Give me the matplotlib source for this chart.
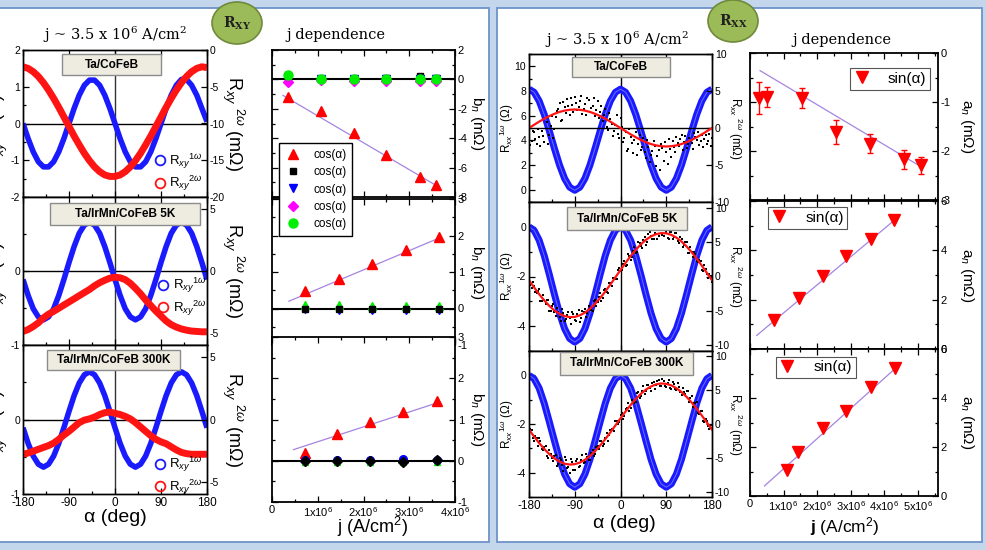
import matplotlib
matplotlib.use("Agg")
import matplotlib.pyplot as plt
import numpy as np
from matplotlib.lines import Line2D
from matplotlib.patches import Ellipse, Rectangle
from matplotlib.ticker import MultipleLocator

W, H = 986, 550
BLUE = "#1a1aff"
RED = "#ff1414"
FITC = "#a484e0"

plt.rcParams["font.family"] = ["Liberation Sans", "DejaVu Sans"]
plt.rcParams["mathtext.fontset"] = "custom"
plt.rcParams["mathtext.rm"] = "Liberation Sans"
plt.rcParams["mathtext.it"] = "Liberation Sans:italic"
plt.rcParams["mathtext.bf"] = "Liberation Sans:bold"
plt.rcParams["axes.unicode_minus"] = False

# ---------------- angle grids (deg) ----------------
alpha10 = np.arange(-180, 181, 10)
alpha5 = np.arange(-180, 181, 5)
alpha5b = np.arange(-177.5, 180, 5)

# ---------------- Rxy vs alpha ----------------
rxy1_cofeb = [0, -0.41, -0.77, -1.04, -1.18, -1.18, -1.04, -0.77, -0.41,
              0, 0.41, 0.77, 1.04, 1.18, 1.18, 1.04, 0.77, 0.41,
              0, -0.41, -0.77, -1.04, -1.18, -1.18, -1.04, -0.77, -0.41,
              0, 0.41, 0.77, 1.04, 1.20, 1.20, 1.04, 0.77, 0.41, 0.05]
rxy2_cofeb = [-2.28, -2.5, -2.95, -3.6, -4.45, -5.45, -6.58, -7.8, -9.1,
              -10.4, -11.7, -12.9, -14.05, -15.05, -15.9, -16.55, -17.0, -17.2,
              -17.2, -17.0, -16.55, -15.9, -15.05, -14.05, -12.9, -11.7, -10.4,
              -9.1, -7.8, -6.58, -5.45, -4.45, -3.6, -2.95, -2.5, -2.28, -2.4]
rxy1_5k = [-0.115, -0.33, -0.51, -0.62, -0.66, -0.62, -0.51, -0.33, -0.115,
           0.115, 0.33, 0.51, 0.62, 0.66, 0.62, 0.51, 0.33, 0.115,
           -0.115, -0.33, -0.51, -0.62, -0.66, -0.62, -0.51, -0.33, -0.115,
           0.115, 0.33, 0.51, 0.62, 0.66, 0.62, 0.51, 0.33, 0.115, -0.115]
rxy2_5k = [-4.9, -4.75, -4.5, -4.2, -3.8, -3.5, -3.27, -3.02, -2.76,
           -2.51, -2.26, -2.0, -1.75, -1.5, -1.2, -0.95, -0.75, -0.58,
           -0.5, -0.55, -0.7, -1.0, -1.4, -1.85, -2.35, -2.8, -3.25,
           -3.65, -4.05, -4.35, -4.55, -4.7, -4.8, -4.87, -4.9, -4.93, -4.93]
rxy1_300k = [-0.11, -0.32, -0.49, -0.6, -0.64, -0.6, -0.49, -0.32, -0.11,
             0.11, 0.32, 0.49, 0.6, 0.64, 0.6, 0.49, 0.32, 0.11,
             -0.11, -0.32, -0.49, -0.6, -0.64, -0.6, -0.49, -0.32, -0.11,
             0.11, 0.32, 0.49, 0.6, 0.64, 0.6, 0.49, 0.32, 0.11, -0.11]
rxy2_300k = [-2.8, -2.7, -2.55, -2.4, -2.25, -2.1, -1.9, -1.6, -1.25,
             -0.95, -0.6, -0.25, -0.05, 0.05, 0.2, 0.4, 0.55, 0.6,
             0.5, 0.4, 0.25, 0.05, -0.25, -0.6, -0.95, -1.3, -1.6,
             -1.8, -1.95, -2.2, -2.45, -2.65, -2.75, -2.8, -2.8, -2.8, -2.8]

# ---------------- b_n vs j (Rxy) ----------------
jb_cofeb = [0.35e6, 1.07e6, 1.79e6, 2.5e6, 3.23e6, 3.58e6]
bn_red_cofeb = [-1.22, -2.15, -3.65, -5.17, -6.64, -7.2]
bn_black_cofeb = [0.1, 0.05, 0.0, 0.1, 0.2, 0.1]
bn_blue_cofeb = [0.1, 0.0, 0.0, 0.0, 0.0, 0.0]
bn_mag_cofeb = [-0.2, -0.05, -0.1, -0.1, -0.1, -0.1]
bn_green_cofeb = [0.32, 0.05, 0.0, 0.0, 0.0, 0.0]
bn_fit_cofeb = [-1.83, -0.65]          # slope per 1e6 A/cm^2, intercept
bn_span_cofeb = [0.24e6, 3.58e6]

jb_5k = [0.73e6, 1.46e6, 2.19e6, 2.92e6, 3.65e6]
bn_red_5k = [0.48, 0.82, 1.22, 1.59, 1.96]
bn_green_5k = [0.1, 0.1, 0.08, 0.08, 0.08]
bn_blue_5k = [-0.05, -0.06, -0.06, -0.07, -0.07]
bn_black_5k = [0.0, 0.0, 0.0, 0.0, 0.0]
bn_fit_5k = [0.527, 0.005]
bn_span_5k = [0.37e6, 3.65e6]

jb_300k = [0.72e6, 1.43e6, 2.15e6, 2.87e6, 3.6e6]
bn_red_300k = [0.2, 0.65, 0.93, 1.19, 1.45]
bn_green_300k = [-0.03, -0.03, -0.03, -0.03, -0.04]
bn_blue_300k = [0.02, 0.02, 0.03, 0.05, 0.03]
bn_black_300k = [0.0, 0.0, 0.0, -0.02, 0.01]
bn_fit_300k = [0.361, 0.10]
bn_span_300k = [0.47e6, 3.6e6]

# ---------------- Rxx vs alpha ----------------
rxx1_cofeb = [8.15, 7.9, 7.19, 6.1, 4.76, 3.34, 2.0, 0.91, 0.2,
              -0.05, 0.2, 0.91, 2.0, 3.34, 4.76, 6.1, 7.19, 7.9,
              8.15, 7.9, 7.19, 6.1, 4.76, 3.34, 2.0, 0.91, 0.2,
              -0.05, 0.2, 0.91, 2.0, 3.34, 4.76, 6.1, 7.19, 7.9, 8.15]
rxx2fit_cofeb = [0, 0.43, 0.86, 1.25, 1.61, 1.92, 2.17, 2.35, 2.46,
                 2.5, 2.46, 2.35, 2.17, 1.92, 1.61, 1.25, 0.86, 0.43,
                 0, -0.43, -0.86, -1.25, -1.61, -1.92, -2.17, -2.35, -2.46,
                 -2.5, -2.46, -2.35, -2.17, -1.92, -1.61, -1.25, -0.86, -0.43, 0]
rxx2dots_cofeb_a = [-1.0, -1.8, -0.6, -2.1, -1.2, -0.4, -1.9, 0.8, -0.9, 1.6,
                    -0.2, 2.3, 3.4, 1.1, 2.8, 3.9, 1.7, 3.1, 4.2, 2.4,
                    3.6, 1.9, 3.3, 4.1, 2.2, 3.0, 1.6, 3.7, 2.1, 0.9,
                    2.6, -0.3, 1.2, -1.1, 0.4, -0.8, 1.3, -1.9, -0.6, -2.8,
                    -1.2, -3.4, -0.5, -2.2, -3.0, -1.4, -4.1, -2.5, -3.6, -1.8,
                    -5.2, -3.0, -2.1, -4.4, -3.3, -1.5, -3.9, -2.6, -1.2, -2.4,
                    -0.9, -1.9, -2.7, -1.3, -2.0, -0.7, -1.6, -2.3, -0.9, -1.5,
                    -2.1, -0.8, -1.4]
rxx2dots_cofeb_b = [-2.3, -0.4, -1.5, -0.2, -2.4, -1.1, 1.3, -2.2, 0.3, -1.4,
                    1.5, 2.6, 0.9, 3.5, 2.0, 3.0, 4.0, 2.2, 3.4, 2.9,
                    4.3, 2.6, 1.8, 3.8, 2.7, 4.0, 2.5, 1.4, 3.0, 1.8,
                    0.2, 2.0, 0.6, -0.4, 1.8, -1.3, 0.2, -1.4, -3.1, -0.2,
                    -2.0, -1.6, -3.7, -1.0, -2.6, -3.3, -1.6, -4.6, -3.1, -2.4,
                    -3.8, -5.7, -2.7, -1.9, -4.8, -2.9, -1.7, -3.3, -2.0, -1.5,
                    -3.0, -1.1, -2.2, -1.7, -2.8, -1.2, -0.6, -1.8, -2.6, -1.0,
                    -1.7, -2.4]

rxx1_5k = [0, -0.14, -0.54, -1.16, -1.92, -2.72, -3.48, -4.1, -4.5,
           -4.64, -4.5, -4.1, -3.48, -2.72, -1.92, -1.16, -0.54, -0.14,
           0, -0.14, -0.54, -1.16, -1.92, -2.72, -3.48, -4.1, -4.5,
           -4.64, -4.5, -4.1, -3.48, -2.72, -1.92, -1.16, -0.54, -0.14, 0]
rxx2fit_5k = [-0.54, -1.58, -2.57, -3.47, -4.26, -4.92, -5.41, -5.74, -5.89,
              -5.86, -5.63, -5.24, -4.67, -3.96, -3.12, -2.18, -1.17, -0.12,
              0.94, 1.98, 2.97, 3.87, 4.66, 5.32, 5.82, 6.14, 6.29,
              6.26, 6.03, 5.64, 5.07, 4.36, 3.52, 2.58, 1.57, 0.52, -0.54]
rxx2dots_5k_a = [-0.14, -1.67, -1.38, -2.39, -1.87, -3.53, -3.37, -3.38, -5.06, -4.31,
                 -5.12, -4.59, -5.81, -4.7, -6.44, -5.64, -5.99, -5.09, -6.36, -5.47,
                 -6.53, -5.06, -4.64, -5.27, -4.57, -4.93, -3.46, -3.76, -2.42, -3.06,
                 -1.88, -2.38, -0.97, -0.15, -0.42, 1.01, 0.84, 1.87, 1.48, 3.29,
                 2.37, 3.63, 3.47, 4.98, 4.46, 5.31, 4.52, 6.09, 5.92, 5.5,
                 6.74, 5.94, 7.19, 5.89, 6.46, 5.47, 6.43, 5.76, 6.24, 4.87,
                 5.37, 4.53, 5.06, 3.36, 3.62, 3.56, 2.18, 2.38, 0.87, 1.65,
                 0.32, 0.39, -0.84]
rxx2dots_5k_b = [-1.3, -0.73, -2.24, -2.03, -3.5, -2.75, -3.98, -3.47, -4.94, -3.97,
                 -5.66, -5.1, -6.4, -5.27, -6.09, -5.17, -6.89, -5.38, -6.42, -4.8,
                 -5.95, -5.15, -5.8, -4.32, -4.8, -3.55, -4.26, -3.04, -3.49, -2.02,
                 -2.23, -0.93, -1.31, -0.19, -0.35, 1.28, 0.9, 2.23, 1.64, 3.03,
                 2.8, 4.25, 3.58, 4.87, 4.14, 5.77, 5.06, 6.5, 5.41, 6.37,
                 5.39, 6.77, 5.99, 6.98, 5.62, 6.5, 5.45, 6.35, 5.2, 5.72,
                 4.3, 4.95, 3.46, 4.34, 2.89, 3.32, 2.03, 2.22, 0.81, 1.08,
                 -0.15, 0.03]

rxx1_300k = [0, -0.14, -0.53, -1.15, -1.91, -2.69, -3.45, -4.06, -4.46,
             -4.6, -4.46, -4.06, -3.45, -2.69, -1.91, -1.15, -0.53, -0.14,
             0, -0.14, -0.53, -1.15, -1.91, -2.69, -3.45, -4.06, -4.46,
             -4.6, -4.46, -4.06, -3.45, -2.69, -1.91, -1.15, -0.53, -0.14, 0]
rxx2fit_300k = [-0.84, -1.85, -2.82, -3.69, -4.46, -5.09, -5.56, -5.87, -6.0,
                -5.94, -5.71, -5.3, -4.73, -4.01, -3.18, -2.25, -1.25, -0.21,
                0.84, 1.85, 2.82, 3.69, 4.46, 5.09, 5.56, 5.87, 6.0,
                5.94, 5.71, 5.3, 4.73, 4.01, 3.18, 2.25, 1.25, 0.21, -0.84]
rxx2dots_300k_a = [-1.14, -0.85, -2.45, -2.14, -2.02, -3.67, -3.39, -4.79, -3.86, -4.99,
                   -4.69, -6.25, -5.06, -6.04, -4.87, -6.56, -7.2, -5.59, -6.74, -5.15,
                   -6.21, -4.62, -5.6, -4.83, -5.33, -3.89, -4.41, -3.31, -2.58, -3.22,
                   -2.05, -2.45, -0.85, -0.93, 0.39, 0.01, 1.34, 0.75, 2.15, 3.04,
                   2.42, 3.47, 3.19, 4.69, 4.16, 5.59, 4.89, 5.75, 4.86, 6.24,
                   5.77, 6.56, 5.6, 6.29, 5.44, 6.55, 5.11, 5.92, 5.1, 5.53,
                   4.33, 4.69, 4.81, 3.31, 4.08, 3.12, 3.25, 1.55, 1.85, 0.23,
                   0.51, -0.71, -0.64]
rxx2dots_300k_b = [-0.7, -2.1, -1.8, -3.28, -2.55, -3.78, -3.29, -5.08, -4.43, -5.44,
                   -4.52, -5.86, -5.35, -6.91, -5.32, -6.38, -5.2, -6.87, -5.4, -6.38,
                   -5.32, -5.81, -4.47, -5.38, -4.36, -4.8, -3.41, -3.7, -2.45, -2.89,
                   -1.4, -1.7, -0.69, -0.97, 0.45, 0.28, 1.7, 1.2, 2.3, 1.98,
                   3.55, 3.18, 4.59, 3.88, 4.93, 4.44, 5.82, 5.26, 6.05, 5.21,
                   6.42, 5.68, 6.7, 5.57, 6.1, 5.28, 6.22, 5.11, 6.07, 4.68,
                   5.36, 4.5, 4.91, 3.9, 2.55, 3.09, 1.7, 1.9, 0.49, 0.77,
                   -0.25, -0.18]

# ---------------- a_n vs j (Rxx) ----------------
ja_cofeb = [0.28e6, 0.52e6, 1.55e6, 2.57e6, 3.58e6, 4.6e6, 5.09e6]
an_cofeb = [-0.92, -0.9, -0.92, -1.61, -1.85, -2.17, -2.29]
an_err_cofeb = [0.33, 0.2, 0.2, 0.25, 0.2, 0.2, 0.17]
an_fit_cofeb = [-0.409, -0.237]
an_span_cofeb = [0.3e6, 5.09e6]

ja_5k = [0.72e6, 1.45e6, 2.18e6, 2.87e6, 3.59e6, 4.3e6]
an_5k = [1.16, 2.07, 2.95, 3.76, 4.47, 5.22]
an_fit_5k = [1.139, 0.322]
an_span_5k = [0.2e6, 4.3e6]

ja_300k = [1.09e6, 1.43e6, 2.18e6, 2.87e6, 3.61e6, 4.32e6]
an_300k = [1.06, 1.81, 2.79, 3.47, 4.46, 5.21]
an_fit_300k = [1.231, -0.12]
an_span_300k = [0.43e6, 4.32e6]


def fx(x):
    return x / W


def fy(y):
    return 1 - y / H


def rect(x0, y0, x1, y1):
    return [fx(x0), fy(y1), (x1 - x0) / W, (y1 - y0) / H]


def style(ax, fs=7.5):
    ax.tick_params(which="both", direction="in", width=0.9, labelsize=fs, pad=2)
    ax.tick_params(which="major", length=4)
    ax.tick_params(which="minor", length=2)
    for s in ax.spines.values():
        s.set_linewidth(1.0)


def sample_box(x0, y0, x1, y1, text):
    fig.add_artist(Rectangle((fx(x0), fy(y1)), (x1 - x0) / W, (y1 - y0) / H,
                             transform=fig.transFigure, facecolor="#eeece1",
                             edgecolor="#8c8c8c", lw=1.0, zorder=5))
    fig.text(fx((x0 + x1) / 2), fy((y0 + y1) / 2), text, ha="center", va="center",
             fontsize=8.5, fontweight="bold", zorder=6)


def fit_line(ax, fit, span):
    xs = np.array(span)
    ax.plot(xs, fit[0] * xs / 1e6 + fit[1], color=FITC, lw=0.9, zorder=1)


def blue_band(ax, x, y, lw, inner):
    ax.plot(x, y, color=BLUE, lw=lw, solid_capstyle="butt", zorder=2)
    if inner:
        ax.plot(x, y, color="#6f6fff", lw=0.7, zorder=2)


fig = plt.figure(figsize=(W / 100, H / 100), dpi=100)
fig.patch.set_facecolor("#c4d6ec")

for x0, x1 in [(-5, 489), (497, 982)]:
    fig.add_artist(Rectangle((fx(x0), fy(542)), (x1 - x0) / W, 534 / H,
                             transform=fig.transFigure, facecolor="white",
                             edgecolor="#6d93c9", lw=1.3, zorder=-10))

# ---------------- Rxy column ----------------
rxy_rows = [
    (50, 197, rxy1_cofeb, rxy2_cofeb, (-2, 2), [-2, -1, 0, 1, 2], (-20, 0), [-20, -15, -10, -5, 0],
     (0.717, 0.167), (62, 54, 161, 75, "Ta/CoFeB")),
    (197, 345, rxy1_5k, rxy2_5k, (-1, 1), [-1, 0], (-6, 6), [-5, 0, 5],
     (0.734, 0.324), (50, 203, 200, 225, "Ta/IrMn/CoFeB 5K")),
    (345, 494, rxy1_300k, rxy2_300k, (-1, 1), [-1, 0], (-6, 6), [-5, 0, 5],
     (0.717, 0.121), (47, 350, 180, 370, "Ta/IrMn/CoFeB 300K")),
]
for i, (y0, y1, r1, r2, lim1, t1, lim2, t2, leg, sb) in enumerate(rxy_rows):
    ax = fig.add_axes(rect(23, y0, 207, y1))
    blue_band(ax, alpha10, r1, 4.0, False)
    ax.axhline(0, color="black", lw=1, zorder=1)
    ax.axvline(0, color="#333333", lw=1, zorder=1)
    ax.set_xlim(-180, 180)
    ax.set_ylim(*lim1)
    ax.set_xticks([-180, -90, 0, 90, 180])
    ax.xaxis.set_minor_locator(MultipleLocator(45))
    ax.set_yticks(t1)
    ax.yaxis.set_minor_locator(MultipleLocator(0.5))
    style(ax)
    ax.tick_params(axis="x", top=True, labelbottom=(i == 2), labelsize=8.5)
    ax2 = ax.twinx()
    ax2.plot(alpha10, r2, color=RED, lw=5, solid_capstyle="butt")
    ax2.set_ylim(*lim2)
    ax2.set_yticks(t2)
    style(ax2)
    handles = [
        Line2D([], [], ls="", marker="o", mfc="none", mec=BLUE, mew=1.3, ms=7,
               label=r"R$_{xy}$$^{1\omega}$"),
        Line2D([], [], ls="", marker="o", mfc="none", mec=RED, mew=1.3, ms=7,
               label=r"R$_{xy}$$^{2\omega}$"),
    ]
    ax2.legend(handles=handles, loc="center left", bbox_to_anchor=leg, frameon=False,
               fontsize=9.5, handlelength=0.8, handletextpad=0.3, labelspacing=0.25,
               borderpad=0, borderaxespad=0)
    sample_box(*sb)
    yc = (y0 + y1) / 2
    fig.text(fx(-3), fy(yc + 8), r"R$_{xy}$$^{1\omega}$ (Ω)", rotation=90, fontsize=13,
             ha="center", va="center")
    fig.text(fx(233), fy(yc), r"R$_{xy}$ $^{2\omega}$ (mΩ)", rotation=270, fontsize=13,
             ha="center", va="center")

fig.text(fx(115), fy(518), "α (deg)", fontsize=14, ha="center", va="center")

# ---------------- b_n vs j column ----------------
jt_labels = ["0", r"1x10$^6$", r"2x10$^6$", r"3x10$^6$", r"4x10$^6$"]
bn_rows = [
    (50, 197, (-8, 2), 2, 1),
    (199, 345, (-1, 3), 1, 0.5),
    (337, 502, (-1, 3), 1, 0.5),
]
bn_axes = []
for i, (y0, y1, lim, step, minor) in enumerate(bn_rows):
    ax = fig.add_axes(rect(272, y0, 455, y1))
    ax.set_xlim(0, 4e6)
    ax.set_ylim(*lim)
    ax.axhline(0, color="black", lw=1.5, zorder=1)
    ax.set_xticks(np.arange(0, 4.1e6, 1e6))
    ax.set_xticklabels(jt_labels)
    ax.xaxis.set_minor_locator(MultipleLocator(0.5e6))
    ax.yaxis.set_major_locator(MultipleLocator(step))
    ax.yaxis.set_minor_locator(MultipleLocator(minor))
    style(ax, fs=8)
    ax.tick_params(axis="y", which="both", left=True, right=True, labelleft=False, labelright=True)
    ax.tick_params(axis="x", which="both", top=True, labelbottom=(i == 2))
    for s in ax.spines.values():
        s.set_linewidth(1.3)
    fig.text(fx(477), fy((y0 + y1) / 2), r"b$_n$ (mΩ)", rotation=270, fontsize=11,
             ha="center", va="center")
    bn_axes.append(ax)

ax = bn_axes[0]
ax.set_zorder(3)
fit_line(ax, bn_fit_cofeb, bn_span_cofeb)
ax.plot(jb_cofeb, bn_red_cofeb, ls="", marker="^", color="red", ms=7)
ax.plot(jb_cofeb, bn_black_cofeb, ls="", marker="s", color="black", ms=5)
ax.plot(jb_cofeb, bn_blue_cofeb, ls="", marker="v", color="blue", ms=6)
ax.plot(jb_cofeb, bn_mag_cofeb, ls="", marker="D", color="#ff00ff", ms=5)
ax.plot(jb_cofeb, bn_green_cofeb, ls="", marker="o", color="#00ee00", ms=6.5)
leg_handles = [
    Line2D([], [], ls="", marker="^", color="red", ms=7, label="cos(α)"),
    Line2D([], [], ls="", marker="s", color="black", ms=5, label="cos(α)"),
    Line2D([], [], ls="", marker="v", color="blue", ms=6, label="cos(α)"),
    Line2D([], [], ls="", marker="D", color="#ff00ff", ms=5, label="cos(α)"),
    Line2D([], [], ls="", marker="o", color="#00ee00", ms=6.5, label="cos(α)"),
]
lg = ax.legend(handles=leg_handles, loc="upper left", bbox_to_anchor=(0.038, 0.367),
               fontsize=8.5, frameon=True, fancybox=False, framealpha=1,
               edgecolor="black", handlelength=1.4, handletextpad=1.0,
               labelspacing=0.45, borderpad=0.5, borderaxespad=0)
lg.get_frame().set_linewidth(1.0)

ax = bn_axes[1]
fit_line(ax, bn_fit_5k, bn_span_5k)
ax.plot(jb_5k, bn_red_5k, ls="", marker="^", color="red", ms=7)
ax.plot(jb_5k, bn_green_5k, ls="", marker="^", color="#00ee00", ms=6)
ax.plot(jb_5k, bn_blue_5k, ls="", marker="v", color="blue", ms=5)
ax.plot(jb_5k, bn_black_5k, ls="", marker="s", color="black", ms=5)

ax = bn_axes[2]
fit_line(ax, bn_fit_300k, bn_span_300k)
ax.plot(jb_300k, bn_red_300k, ls="", marker="^", color="red", ms=7)
ax.plot(jb_300k, bn_green_300k, ls="", marker="^", color="#00ee00", ms=5)
ax.plot(jb_300k, bn_blue_300k, ls="", marker="o", color="blue", ms=5.5)
ax.plot(jb_300k, bn_black_300k, ls="", marker="D", color="black", ms=5)
fig.text(fx(372), fy(527), r"j (A/cm$^2$)", fontsize=13, ha="center", va="center")

# ---------------- Rxx column ----------------
rxx_rows = [
    (54, 202, rxx1_cofeb, rxx2fit_cofeb, rxx2dots_cofeb_a, rxx2dots_cofeb_b,
     (-1, 11), [0, 2, 4, 6, 8, 10], (-10, 10), True, (572, 57, 670, 77, "Ta/CoFeB")),
    (202, 351, rxx1_5k, rxx2fit_5k, rxx2dots_5k_a, rxx2dots_5k_b,
     (-5, 1), [-4, -2, 0], (-10.8, 10.8), False, (567, 207, 687, 230, "Ta/IrMn/CoFeB 5K")),
    (351, 497, rxx1_300k, rxx2fit_300k, rxx2dots_300k_a, rxx2dots_300k_b,
     (-5, 1), [-4, -2, 0], (-10.8, 10.8), False, (560, 352, 693, 375, "Ta/IrMn/CoFeB 300K")),
]
for i, (y0, y1, r1, fit, da, db, lim1, t1, lim2, hl, sb) in enumerate(rxx_rows):
    ax = fig.add_axes(rect(529, y0, 712, y1))
    blue_band(ax, alpha10, r1, 5, True)
    ax.axvline(0, color="black", lw=1, zorder=1)
    ax.set_xlim(-180, 180)
    ax.set_ylim(*lim1)
    ax.set_xticks([-180, -90, 0, 90, 180])
    ax.xaxis.set_minor_locator(MultipleLocator(45))
    ax.set_yticks(t1)
    ax.yaxis.set_minor_locator(MultipleLocator(1))
    style(ax)
    ax.tick_params(axis="x", top=True, labelbottom=(i == 2), labelsize=8.5)
    ax2 = ax.twinx()
    if hl:
        ax2.axhline(0, color="black", lw=1)
    ax2.plot(alpha5, da, ls="", marker="s", color="black", ms=2.0, mew=0)
    ax2.plot(alpha5b, db, ls="", marker="s", color="black", ms=2.0, mew=0)
    ax2.plot(alpha10, fit, color=RED, lw=1.6)
    ax2.set_ylim(*lim2)
    ax2.set_yticks([-10, -5, 0, 5, 10])
    style(ax2)
    sample_box(*sb)
    yc = (y0 + y1) / 2
    fig.text(fx(507), fy(yc), r"R$_{xx}$$^{1\omega}$ (Ω)", rotation=90, fontsize=8.5,
             ha="center", va="center")
    fig.text(fx(735), fy(yc), r"R$_{xx}$ $^{2\omega}$ (mΩ)", rotation=270, fontsize=8.5,
             ha="center", va="center")

fig.text(fx(624), fy(524), "α (deg)", fontsize=14, ha="center", va="center")

# ---------------- a_n vs j column ----------------
ja_labels = ["0", r"1x10$^6$", r"2x10$^6$", r"3x10$^6$", r"4x10$^6$", r"5x10$^6$"]
an_rows = [
    (53, 200, (-3, 0), 1, 0.5, "upper right", (0.957, 0.898)),
    (201, 349, (0, 6), 2, 1, "upper left", (0.094, 0.96)),
    (349, 496, (0, 6), 2, 1, "upper left", (0.137, 0.948)),
]
an_axes = []
for i, (y0, y1, lim, step, minor, loc, anchor) in enumerate(an_rows):
    ax = fig.add_axes(rect(750, y0, 938, y1))
    ax.set_xlim(0, 5.6e6)
    ax.set_ylim(*lim)
    ax.set_xticks(np.arange(0, 5.1e6, 1e6))
    ax.set_xticklabels(ja_labels)
    ax.xaxis.set_minor_locator(MultipleLocator(0.5e6))
    ax.yaxis.set_major_locator(MultipleLocator(step))
    ax.yaxis.set_minor_locator(MultipleLocator(minor))
    style(ax, fs=8)
    ax.tick_params(axis="y", which="both", left=True, right=True, labelleft=False, labelright=True)
    ax.tick_params(axis="x", which="both", top=True, labelbottom=(i == 2))
    for s in ax.spines.values():
        s.set_linewidth(1.3)
    fig.text(fx(967), fy((y0 + y1) / 2), r"a$_n$ (mΩ)", rotation=270, fontsize=11,
             ha="center", va="center")
    h = [Line2D([], [], ls="", marker="v", color="red", ms=8, label="sin(α)")]
    lg = ax.legend(handles=h, loc=loc, bbox_to_anchor=anchor, fontsize=11,
                   frameon=True, fancybox=False, framealpha=1, edgecolor="#555555",
                   handlelength=1.0, handletextpad=1.2, borderpad=0.25, borderaxespad=0)
    lg.get_frame().set_linewidth(0.8)
    an_axes.append(ax)

ax = an_axes[0]
fit_line(ax, an_fit_cofeb, an_span_cofeb)
ax.errorbar(ja_cofeb, an_cofeb, yerr=an_err_cofeb, fmt="v", color="red", ms=8,
            capsize=2, elinewidth=1, capthick=1)
ax = an_axes[1]
fit_line(ax, an_fit_5k, an_span_5k)
ax.plot(ja_5k, an_5k, ls="", marker="v", color="red", ms=8)
ax = an_axes[2]
fit_line(ax, an_fit_300k, an_span_300k)
ax.plot(ja_300k, an_300k, ls="", marker="v", color="red", ms=8)
fig.text(fx(845), fy(527), r"$\mathbf{j}$ (A/cm$^2$)", fontsize=12.5, ha="center", va="center")

# ---------------- titles and badges ----------------
for x, y, t in [(115, 35, r"j ~ 3.5 x 10$^6$ A/cm$^2$"), (336, 35, "j dependence"),
                (617, 40, r"j ~ 3.5 x 10$^6$ A/cm$^2$"), (842, 40, "j dependence")]:
    fig.text(fx(x), fy(y), t, family="DejaVu Serif", math_fontfamily="dejavuserif",
             fontsize=10.5, ha="center", va="center")

for cx, cy, t in [(237, 23, r"$\mathbf{R}_{\mathbf{XY}}$"), (733, 21, r"$\mathbf{R}_{\mathbf{XX}}$")]:
    fig.add_artist(Ellipse((fx(cx), fy(cy)), 50 / W, 42 / H, transform=fig.transFigure,
                           facecolor="#9bbb59", edgecolor="#6f8a3a", lw=1.2, zorder=8))
    fig.text(fx(cx), fy(cy), t, ha="center", va="center", fontsize=10,
             math_fontfamily="dejavuserif", color="#202020", zorder=9)

fig.savefig("out.png", dpi=100, facecolor=fig.get_facecolor())
